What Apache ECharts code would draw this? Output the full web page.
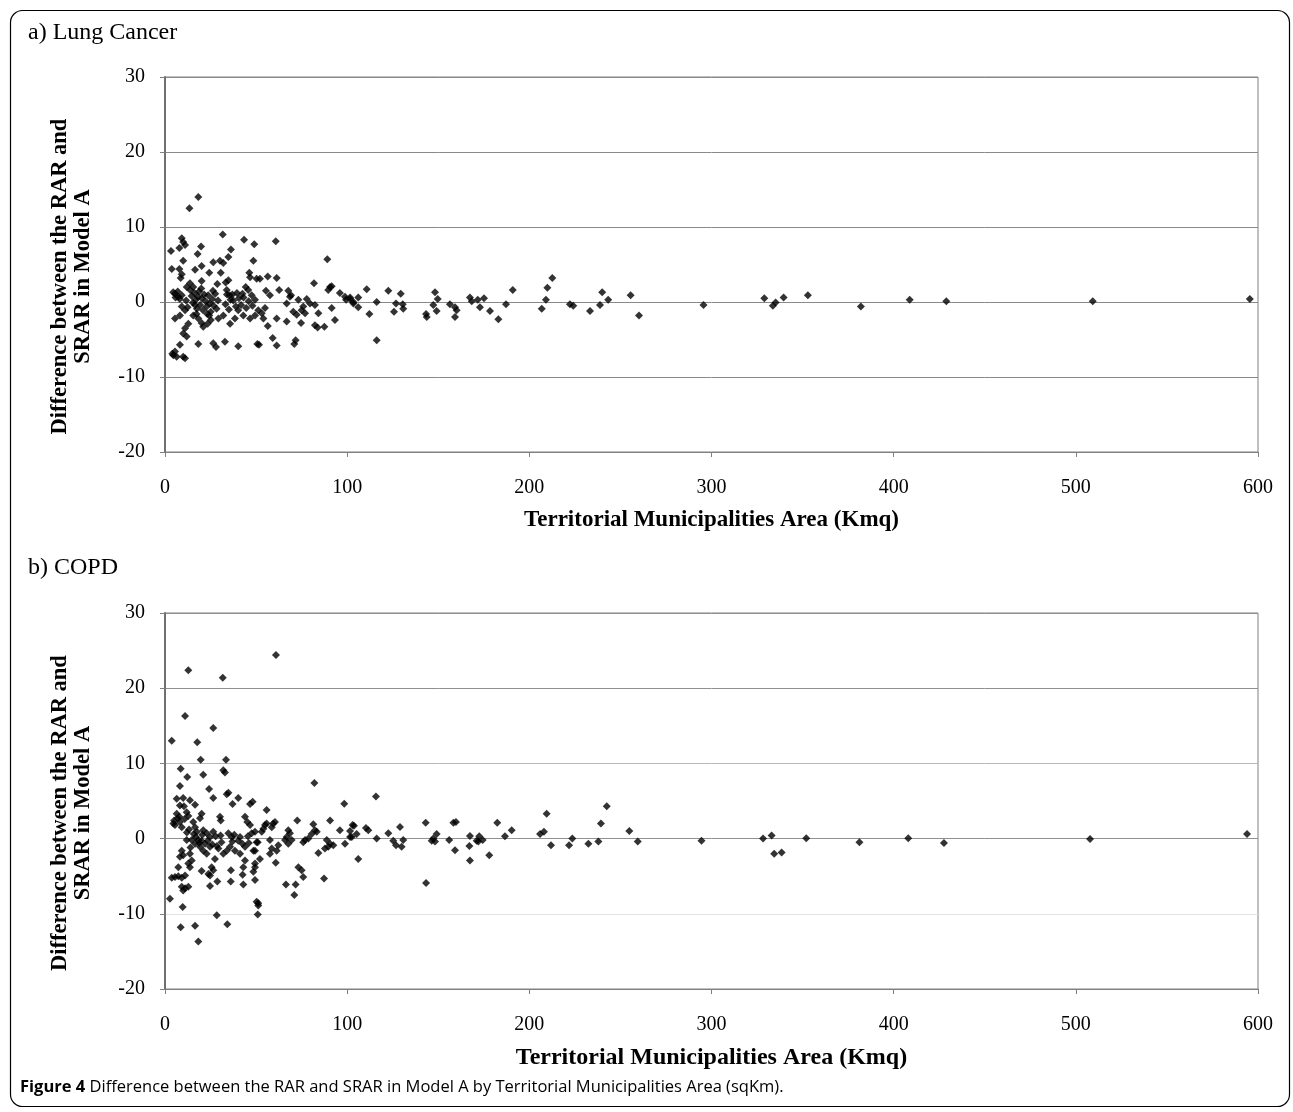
<!DOCTYPE html>
<html>
<head>
<meta charset="utf-8">
<script src="https://cdn.jsdelivr.net/npm/echarts@6/dist/echarts.min.js"></script>
<style>
  html, body { margin: 0; padding: 0; background: #fff; }
  #chart { width: 1293px; height: 1112px; }
</style>
</head>
<body>
<div id="chart"></div>
<script>
// area (Kmq) vs difference RAR - SRAR
var lungPoints = [
  [18.3,14.0],[13.4,12.5],[31.7,9.0],[9.2,8.5],[10.0,8.0],[11.0,7.6],[3.3,6.8],[7.9,7.2],[19.8,7.4],[17.9,6.4],
  [43.4,8.3],[49.0,7.7],[60.8,8.1],[36.2,7.0],[34.8,6.0],[30.2,5.5],[26.5,5.3],[32.0,5.2],[48.5,5.5],[10.0,5.5],[89.1,5.7],
  [3.7,4.4],[7.9,4.4],[9.2,3.7],[8.6,3.2],[16.5,4.3],[20.1,4.8],[24.3,3.9],[30.6,3.9],[46.3,3.9],[46.7,3.3],[50.3,3.1],
  [52.1,3.1],[56.4,3.4],[61.3,3.2],[34.8,2.9],[33.3,2.6],[20.1,2.8],[13.7,2.5],[11.9,2.0],[15.5,2.0],[28.7,2.4],[44.3,2.0],
  [45.7,1.6],[33.9,1.6],[81.8,2.5],[89.6,1.6],[90.6,2.0],[91.5,2.1],
  [5.5,1.1],[7.3,0.7],[9.2,0.9],[55.4,1.5],[57.6,0.9],[62.7,1.6],[67.7,1.5],[69.2,0.9],[68.6,0.7],[96.0,1.2],[98.8,0.7],
  [34.0,1.0],[35.5,0.9],[37.0,1.0],[36.0,0.3],[47.6,0.9],[49.4,0.3],
  [4.5,1.3],[5.8,0.6],[7.0,1.4],[8.1,0.4],[13.8,1.6],[14.6,0.8],[15.3,-0.1],[16.2,1.2],[16.9,0.3],[17.5,-0.9],[18.1,0.7],
  [18.7,1.4],[19.3,-0.4],[20.2,0.5],[20.9,-1.1],[21.5,1.0],[22.3,0.1],[22.9,-0.6],[23.7,0.9],[24.5,-0.2],[25.1,-1.3],
  [25.9,0.4],[26.7,-0.5],[27.6,1.1],[28.3,-0.9],[29.1,0.2],[17.3,-1.6],[19.9,1.8],[23.2,-1.6],[26.3,1.5],[33.2,-0.3],
  [35.1,-1.0],[37.5,0.2],[38.9,-0.6],[40.6,0.5],[41.8,-0.4],[43.1,0.6],[44.6,-0.8],[45.9,0.1],[48.0,-0.5],[39.5,1.2],
  [42.5,1.1],[11.6,0.2],[12.4,-0.7],
  [9.2,-0.6],[11.0,-1.1],[8.2,-1.8],[5.5,-2.2],[16.5,-0.4],[15.5,-1.8],[18.3,-2.2],[20.1,-2.8],[21.0,-3.3],[24.3,-1.8],
  [25.2,-2.4],[23.4,-2.9],[29.3,-2.2],[32.0,-1.8],[35.7,-2.9],[38.4,-2.2],[40.2,-1.1],[43.0,-1.8],[46.7,-2.2],[49.4,-1.8],
  [12.8,-2.9],[11.0,-3.5],[10.0,-4.2],[11.9,-4.6],[8.2,-5.7],[18.3,-5.6],[26.5,-5.5],[28.0,-6.0],[32.9,-5.3],[40.2,-5.9],
  [50.7,-5.6],[5.5,-6.6],[4.6,-7.1],[6.4,-7.3],[10.0,-7.3],[11.0,-7.5],[4.0,-6.9],
  [73.2,0.3],[77.8,0.4],[79.6,-0.2],[82.3,-0.4],[75.9,-0.6],[66.8,-0.2],[70.4,-1.3],[72.3,-1.7],[75.0,-1.1],[76.9,-1.5],
  [51.2,-1.1],[53.1,-1.5],[54.9,-0.8],[54.0,-2.2],[84.2,-1.5],[91.5,-0.8],[93.3,-2.4],[61.3,-2.2],[66.8,-2.6],[74.7,-2.8],
  [56.4,-3.2],[82.3,-3.1],[83.8,-3.4],[87.5,-3.3],[59.1,-4.8],[61.3,-5.8],[51.6,-5.7],[71.7,-5.1],[71.0,-5.6],[101.6,0.4],
  [103.4,0.0],
  [99.4,0.3],[101.6,0.6],[103.4,-0.2],[106.1,-0.7],[106.1,0.6],[110.7,1.7],[112.2,-1.6],[116.2,0.0],[116.2,-5.1],
  [122.6,1.5],[125.7,-1.3],[126.8,-0.2],[129.4,1.1],[130.5,-0.3],[130.8,-0.9],[143.3,-1.6],[143.7,-2.0],[147.3,-0.4],
  [148.2,1.3],[149.7,0.4],[149.1,-1.2],[156.4,-0.3],[159.2,-0.7],[160.1,-1.1],[159.2,-2.0],[167.4,0.6],[168.4,0.1],
  [171.7,0.3],[172.9,-0.7],[175.1,0.5],[178.4,-1.2],[183.0,-2.3],[187.2,-0.3],[190.9,1.6],[206.8,-0.9],[209.1,0.3],
  [209.9,1.9],[212.6,3.2],[222.3,-0.3],[224.1,-0.5],[233.3,-1.2],[238.8,-0.4],[240.0,1.3],[243.3,0.3],[255.6,0.9],
  [260.2,-1.8],
  [295.6,-0.4],[329.0,0.5],[333.7,-0.5],[335.2,-0.05],[339.6,0.6],[352.9,0.9],[382.0,-0.6],[408.8,0.3],[428.9,0.1],
  [509.3,0.1],[595.5,0.4]
];

var copdPoints = [
  [12.8,22.4],[31.7,21.4],[11.0,16.3],[26.5,14.7],[3.7,13.0],[17.7,12.8],[19.6,10.5],[33.5,10.5],[8.6,9.3],[12.2,8.2],
  [21.0,8.5],[32.0,9.1],[32.9,8.8],[8.2,7.0],[24.2,6.6],[26.5,5.4],[34.8,6.1],[33.9,5.9],[40.2,5.4],[37.1,4.6],[6.4,5.3],
  [10.0,5.4],[13.7,5.1],[16.5,4.5],[8.2,4.4],[10.4,4.3],[46.7,4.6],[48.1,4.9],
  [6.4,3.3],[7.9,2.9],[11.9,3.5],[12.8,3.0],[20.1,3.3],[19.2,2.7],[30.2,2.9],[30.6,2.4],[43.9,2.9],[45.2,2.2],[46.7,1.8],
  [4.6,2.0],[5.5,1.8],[8.2,2.2],[9.2,1.5],[15.5,2.2],[16.5,1.5],[17.5,0.9],[21.0,1.1],[22.9,0.7],[26.5,0.9],[24.7,0.2],
  [34.8,0.7],[36.6,0.2],[41.2,0.2],[40.2,-0.3],[47.6,0.7],[49.4,0.9],
  [11.9,-0.2],[14.7,-0.2],[16.5,-0.7],[18.3,-0.2],[19.2,-1.1],[21.0,-1.6],[22.0,-0.7],[24.7,-1.1],[22.9,-2.0],[29.3,-1.3],
  [32.0,-2.0],[33.9,-1.6],[35.7,-1.1],[38.4,-1.6],[41.2,-2.0],[43.9,-1.1],[48.5,-1.6],[50.3,-0.5],[9.2,-1.6],[8.2,-2.4],
  [10.0,-2.2],[13.7,-2.0],[14.7,-2.9],[7.3,-3.8],[12.8,-3.3],[13.7,-3.8],[27.4,-2.7],[25.6,-3.8],[26.5,-4.2],[23.8,-4.7],
  [24.7,-4.9],[43.9,-2.9],[43.0,-3.8],[49.4,-3.3],[48.5,-4.4],[20.1,-4.3],[36.2,-4.2],[3.7,-5.2],[5.5,-5.1],[7.3,-5.0],
  [9.2,-5.2],[11.0,-4.9],[24.7,-6.3],[28.7,-5.7],[36.1,-5.7],[42.6,-4.8],[43.0,-6.1],[9.2,-6.4],[11.0,-6.6],[12.8,-6.4],
  [10.0,-6.9],[2.7,-8.0],[9.7,-9.1],[50.3,-8.4],[51.2,-8.6],[50.9,-10.1],[28.4,-10.2],[8.6,-11.8],[16.5,-11.6],
  [34.2,-11.4],[18.3,-13.7],
  [17.0,0.2],[18.8,-0.6],[20.5,0.5],[15.8,0.6],[23.5,-0.3],[26.0,-0.8],[27.8,0.3],[31.0,-0.5],[13.2,1.2],[12.0,0.8],
  [45.5,0.3],[46.0,-0.6],[38.0,0.5],[42.5,-0.7],[10.8,2.6],[6.9,2.7],[5.0,2.4],[14.0,-1.2],[20.0,-0.3],[28.5,-1.0],
  [30.5,0.4],[37.0,-0.4],
  [60.9,24.4],[82.0,7.4],[98.4,4.65],[55.8,3.8],[72.6,2.4],[90.6,2.4],[54.9,1.8],[55.8,2.0],[54.0,1.3],[53.1,0.9],
  [59.4,2.0],[60.4,2.2],[58.6,1.5],[81.4,1.9],[82.3,1.1],[83.3,0.9],[80.5,0.6],[78.7,0.0],[76.9,-0.2],[75.9,-0.5],
  [67.7,1.1],[68.6,0.7],[66.8,0.2],[65.9,-0.2],[67.7,-0.7],[69.5,-0.2],[96.0,1.1],[98.8,-0.7],[101.6,0.2],[103.0,1.8],
  [88.8,-0.2],[90.6,-0.7],[89.6,-1.1],[92.4,-0.9],[87.8,-1.3],[84.2,-1.9],[57.6,-0.2],[58.6,-1.3],[57.6,-2.0],[62.2,-0.9],
  [61.3,-1.6],[50.9,-0.5],[49.4,-1.6],[52.1,-2.7],[49.4,-3.8],[49.4,-5.5],[60.8,-3.2],[73.2,-3.8],[75.0,-4.2],[75.9,-5.1],
  [71.7,-6.1],[71.0,-7.5],[66.4,-6.1],[87.3,-5.3],[51.2,-8.9],
  [102.5,0.2],[101.6,1.0],[103.7,1.7],[105.2,0.6],[106.1,-2.7],[110.3,1.4],[111.6,1.1],[115.8,5.6],[116.2,0.0],
  [122.6,0.7],[125.3,-0.3],[126.8,-0.9],[129.9,-1.1],[130.8,-0.2],[129.0,1.55],[143.1,2.1],[143.3,-5.9],[146.4,-0.3],
  [147.3,0.0],[149.1,0.6],[148.2,-0.4],[156.0,-0.2],[158.3,2.1],[159.7,2.2],[159.2,-1.55],[167.4,0.35],[167.1,-1.0],
  [167.4,-2.9],[171.1,-0.3],[172.5,0.3],[174.4,-0.2],[172.0,-0.4],[178.0,-2.2],[182.4,2.1],[186.6,0.3],[190.3,1.1],
  [205.9,0.6],[208.0,0.9],[209.5,3.3],[211.9,-0.9],[221.8,-0.9],[223.6,0.0],[232.4,-0.7],[237.9,-0.4],[239.3,2.0],
  [242.5,4.3],[254.9,1.0],[259.5,-0.4],
  [294.5,-0.3],[328.3,0.0],[333.0,0.4],[334.4,-2.0],[338.5,-1.85],[352.0,0.05],[381.2,-0.5],[408.0,0.05],[427.6,-0.6],
  [507.8,-0.05],[594.0,0.6]
];

var panelTitles = ['a) Lung Cancer', 'b) COPD'];
var xName = 'Territorial Municipalities Area (Kmq)';
var yName = 'Difference between the RAR and\nSRAR in Model A';
var caption = 'Difference between the RAR and SRAR in Model A by Territorial Municipalities Area (sqKm).';

var serif = 'Liberation Serif';
var chart = echarts.init(document.getElementById('chart'));

function xAxisFor(idx, nameSize) {
  return {
    type: 'value', gridIndex: idx, min: 0, max: 600, interval: 100,
    axisLine: { show: true, onZero: false, lineStyle: { color: '#808080', width: 1 } },
    axisTick: { show: true, length: 5, lineStyle: { color: '#808080' } },
    axisLabel: { fontFamily: serif, fontSize: 20, color: '#000', margin: 26 },
    splitLine: { show: false },
    name: xName, nameLocation: 'middle', nameGap: 57,
    nameTextStyle: { fontFamily: serif, fontSize: nameSize, fontWeight: 'bold', color: '#000' }
  };
}
function yAxisFor(idx, gridColors) {
  return {
    type: 'value', gridIndex: idx, min: -20, max: 30, interval: 10,
    axisLine: { show: true, onZero: false, lineStyle: { color: '#707070', width: 2 } },
    axisTick: { show: true, length: 5, lineStyle: { color: '#808080' } },
    axisLabel: { fontFamily: serif, fontSize: 20, color: '#000', margin: 20 },
    splitLine: { show: true, lineStyle: { color: gridColors, width: 1 } },
    name: yName, nameLocation: 'middle', nameGap: 70,
    nameTextStyle: { fontFamily: serif, fontSize: 22.5, fontWeight: 'bold', color: '#000',
      lineHeight: 23, padding: [0, 24, 0, 0] }
  };
}

chart.setOption({
  animation: false,
  backgroundColor: '#fff',
  grid: [
    { left: 165, top: 77, width: 1093, height: 375, show: true, borderColor: '#808080', borderWidth: 1 },
    { left: 165, top: 613, width: 1093, height: 376, show: true, borderColor: '#808080', borderWidth: 1 }
  ],
  xAxis: [xAxisFor(0, 23), xAxisFor(1, 24)],
  yAxis: [
    yAxisFor(0, '#8a8a8a'),
    yAxisFor(1, ['#808080', '#e2e2e2', '#909090', '#b8b8b8', '#909090', '#909090'])
  ],
  series: [
    { type: 'scatter', xAxisIndex: 0, yAxisIndex: 0, data: lungPoints,
      symbol: 'diamond', symbolSize: 8, itemStyle: { color: '#000' } },
    { type: 'scatter', xAxisIndex: 1, yAxisIndex: 1, data: copdPoints,
      symbol: 'diamond', symbolSize: 8, itemStyle: { color: '#000' } }
  ],
  graphic: [
    { type: 'rect', z: -10, silent: true,
      shape: { x: 10.5, y: 10.5, width: 1279, height: 1096, r: 12 },
      style: { fill: 'none', stroke: '#000', lineWidth: 1.2 } },
    { type: 'text', left: 28, top: 21,
      style: { text: panelTitles[0], font: '24px "Liberation Serif"', fill: '#000' } },
    { type: 'text', left: 28, top: 556,
      style: { text: panelTitles[1], font: '24px "Liberation Serif"', fill: '#000' } },
    { type: 'text', left: 20, top: 1079,
      style: {
        text: '{b|Figure 4} ' + caption,
        font: '16.5px "Open Sans"', fill: '#000',
        rich: { b: { fontFamily: 'Open Sans', fontSize: 16.5, fontWeight: 'bold', fill: '#000' } }
      } }
  ]
});
</script>
</body>
</html>
